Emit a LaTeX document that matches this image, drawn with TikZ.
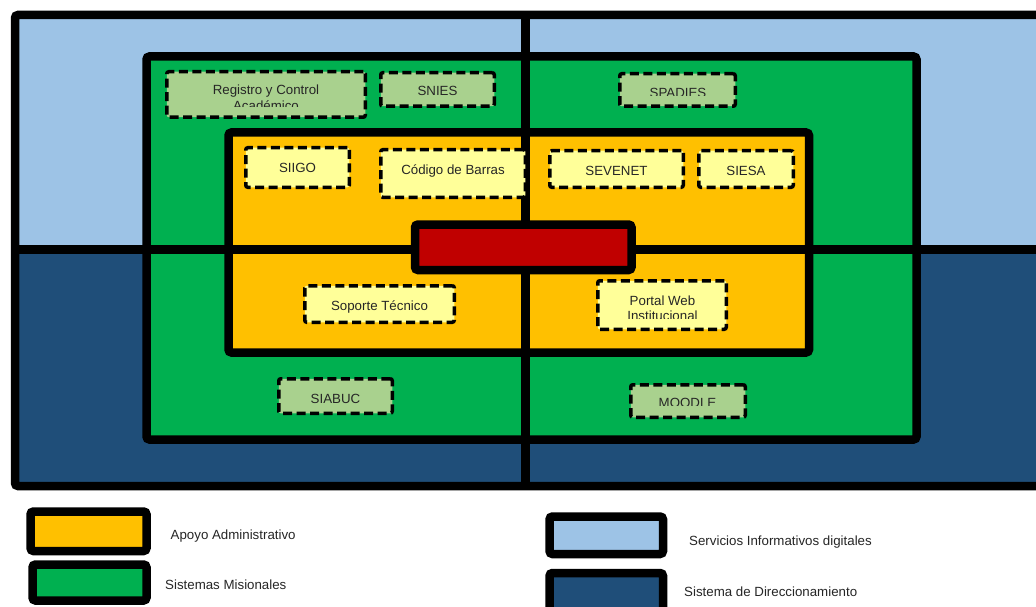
\documentclass[tikz,border=0pt]{standalone}
\usepackage{fontspec}
\setmainfont{Liberation Sans}
\definecolor{sky}{HTML}{9DC3E6}
\definecolor{navy}{HTML}{1F4E79}
\definecolor{mgreen}{HTML}{00B050}
\definecolor{amber}{HTML}{FFC000}
\definecolor{crimson}{HTML}{C00000}
\definecolor{sage}{HTML}{A9D18E}
\definecolor{cream}{HTML}{FFFF99}
\tikzset{
  frame/.style={draw=black, line width=8.5pt, rounded corners=3pt},
  divider/.style={draw=black, line width=8.5pt},
  dbox/.style={draw=black, line width=3.5pt, dash pattern=on 9pt off 4.5pt, rounded corners=2pt, inner sep=0pt},
  lbl/.style={font=\fontsize{13.3}{15}\selectfont, anchor=base, inner sep=0pt, text=black!85},
  legtxt/.style={font=\fontsize{13.3}{15}\selectfont, anchor=base west, inner sep=0pt, text=black!85},
}
\begin{document}
\begin{tikzpicture}[x=1pt,y=-1pt]
\clip (0,0) rectangle (1036,607);
\fill[white] (0,0) rectangle (1036,607);
% background halves
\fill[sky] (15,15) rectangle (1050,249.5);
\fill[navy] (15,249.5) rectangle (1050,486);
% green and orange regions
\draw[frame, fill=mgreen] (146.5,56.5) rectangle (916.5,439.5);
\draw[frame, fill=amber] (228.5,132.5) rectangle (809,352.5);
% dividers and outer frame
\coordinate (hl) at (15,249.5);
\coordinate (hr) at (1050,249.5);
\coordinate (vt) at (525.5,15);
\coordinate (vb) at (525.5,486);
\draw[divider] (hl) -- (hr);
\draw[divider] (vt) -- (vb);
\draw[frame] (15,15) rectangle (1050,486);
% centre block
\draw[frame, fill=crimson] (415,224.5) rectangle (631.5,270);
% dashed boxes
\node[dbox, fill=sage, minimum width=198.5pt, minimum height=45.5pt] (reg) at (266,94.5) {};
\node[dbox, fill=sage, minimum width=113.5pt, minimum height=33.5pt] (snies) at (437.5,89.5) {};
\node[dbox, fill=sage, minimum width=115.5pt, minimum height=32.5pt] (spadies) at (677.5,90) {};
\node[dbox, fill=cream, minimum width=103.5pt, minimum height=39.5pt] (siigo) at (297.5,167.5) {};
\node[dbox, fill=cream, minimum width=144.5pt, minimum height=47.5pt] (codigo) at (453,173.5) {};
\node[dbox, fill=cream, minimum width=133.5pt, minimum height=36.5pt] (sevenet) at (616.5,169) {};
\node[dbox, fill=cream, minimum width=94.5pt, minimum height=36.5pt] (siesa) at (746,169) {};
\node[dbox, fill=cream, minimum width=149.5pt, minimum height=36.5pt] (soporte) at (379.5,304) {};
\node[dbox, fill=cream, minimum width=128.5pt, minimum height=48.5pt] (portal) at (662,305) {};
\node[dbox, fill=sage, minimum width=113.5pt, minimum height=34.5pt] (siabuc) at (335.5,396) {};
\node[dbox, fill=sage, minimum width=114.5pt, minimum height=32.5pt] (moodle) at (688,401) {};
% texts
\begin{scope}
\clip (170,74) rectangle (362,106.3);
\node[lbl] (regt1) at (266,94.2) {Registro y Control};
\node[lbl] (regt2) at (266,110.2) {Académico};
\end{scope}
\node[lbl] (sniest) at (437.5,95.8) {SNIES};
\begin{scope}
\clip (622,75) rectangle (733,95.6);
\node[lbl] (spadiest) at (678,97.8) {SPADIES};
\end{scope}
\node[lbl] (siigot) at (297.5,172.5) {SIIGO};
\node[lbl] (codigot) at (453,174.5) {Código de Barras};
\node[lbl] (sevenett) at (616.5,175.5) {SEVENET};
\node[lbl] (siesat) at (746,175.5) {SIESA};
\node[lbl] (soportet) at (379.5,310.5) {Soporte Técnico};
\begin{scope}
\clip (600,283) rectangle (724,318.6);
\node[lbl] (portalt1) at (662.5,305.4) {Portal Web};
\node[lbl] (portalt2) at (662.5,320.8) {Institucional};
\end{scope}
\node[lbl] (siabuct) at (335.5,403) {SIABUC};
\begin{scope}
\clip (633,386) rectangle (743,405.6);
\node[lbl] (moodlet) at (687.5,407.8) {MOODLE};
\end{scope}
% legend
\draw[frame, fill=amber] (30.5,511.5) rectangle (146.5,551);
\draw[frame, fill=mgreen] (32.5,564.5) rectangle (146.5,600.5);
\draw[frame, fill=sky] (549.5,516.5) rectangle (663,554);
\draw[frame, fill=navy] (549.5,573) rectangle (663,612);
\node[legtxt] (l1) at (170.5,539.5) {Apoyo Administrativo};
\node[legtxt] (l2) at (165,589.5) {Sistemas Misionales};
\node[legtxt] (l3) at (689,545) {Servicios Informativos digitales};
\node[legtxt] (l4) at (684,596.7) {Sistema de Direccionamiento};
\end{tikzpicture}
\end{document}
